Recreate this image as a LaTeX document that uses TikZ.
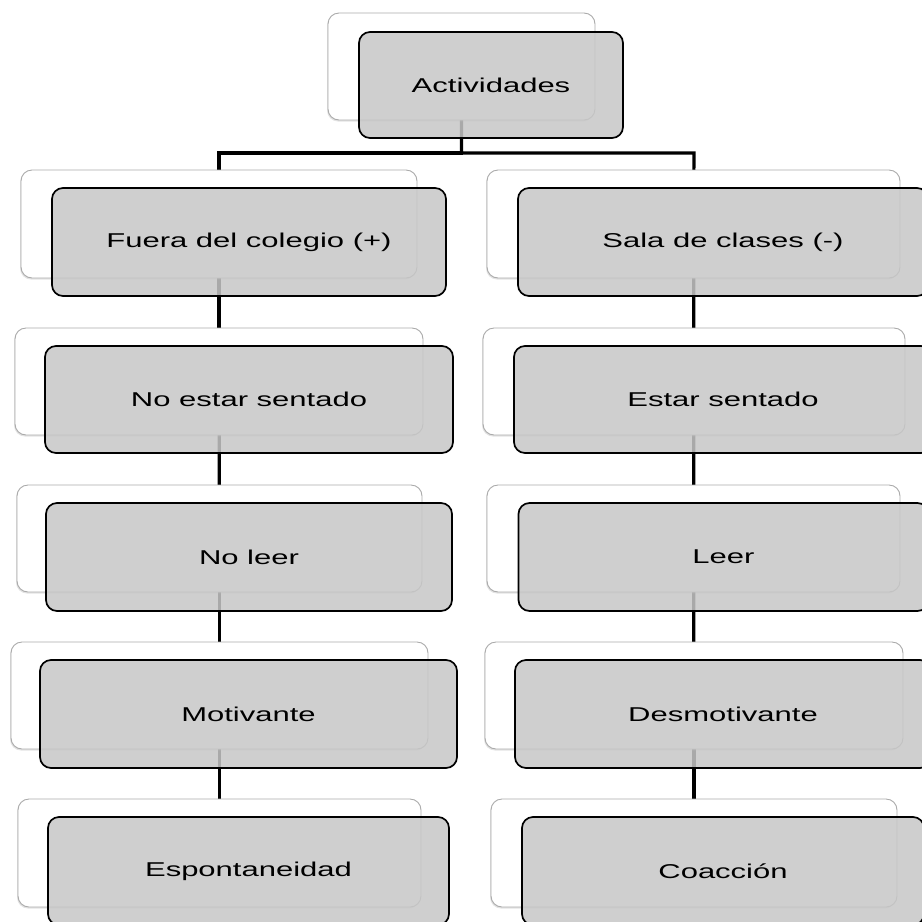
\documentclass[tikz,border=0pt]{standalone}
\usepackage{fontspec}
\newfontfamily\boxfont[FakeStretch=1.55]{Liberation Sans}
\usetikzlibrary{shadows}
\pgfdeclarelayer{bg}
\pgfsetlayers{bg,main}
\definecolor{boxgray}{RGB}{199,199,199}
\definecolor{backedge}{RGB}{170,170,170}
\tikzset{
  backbox/.style={draw=backedge, line width=0.9pt, fill=white, rounded corners=11pt,
    drop shadow={shadow xshift=-1pt, shadow yshift=-1.5pt, opacity=0.22}, inner sep=0pt},
  frontbox/.style={draw=black, line width=1.7pt, fill=boxgray, fill opacity=0.85,
    text opacity=1, rounded corners=11pt, inner sep=0pt,
    font=\boxfont\fontsize{20}{24}\selectfont},
  conn/.style={line width=3.2pt, black},
}
\begin{document}
\begin{tikzpicture}[x=1pt,y=-1pt]
\useasboundingbox (0,0) rectangle (922,922);
% back boxes
\node[backbox, minimum width=267pt, minimum height=107pt] (wT) at (461.5,66.5) {};
\node[backbox, minimum width=396pt, minimum height=108pt] (wL1) at (219,224) {};
\node[backbox, minimum width=408pt, minimum height=107pt] (wL2) at (219,381.5) {};
\node[backbox, minimum width=405pt, minimum height=107pt] (wL3) at (219.5,538.5) {};
\node[backbox, minimum width=417pt, minimum height=107pt] (wL4) at (219.5,695.5) {};
\node[backbox, minimum width=403pt, minimum height=108pt] (wL5) at (219.5,853) {};
\node[backbox, minimum width=413pt, minimum height=108pt] (wR1) at (693.5,224) {};
\node[backbox, minimum width=422pt, minimum height=107pt] (wR2) at (694,381.5) {};
\node[backbox, minimum width=413pt, minimum height=107pt] (wR3) at (693.5,538.5) {};
\node[backbox, minimum width=418pt, minimum height=107pt] (wR4) at (694,695.5) {};
\node[backbox, minimum width=406pt, minimum height=108pt] (wR5) at (694,853) {};
% front boxes
\node[frontbox, minimum width=264pt, minimum height=106pt] (gT) at (491,85) {Actividades};
\node[frontbox, minimum width=394pt, minimum height=108pt] (gL1) at (249,242) {Fuera del colegio (+)};
\node[frontbox, minimum width=408pt, minimum height=107pt] (gL2) at (249,399.5) {No estar sentado};
\node[frontbox, minimum width=406pt, minimum height=108pt] (gL3) at (249,557) {No leer};
\node[frontbox, minimum width=417pt, minimum height=108pt] (gL4) at (248.5,714) {Motivante};
\node[frontbox, minimum width=401pt, minimum height=108pt] (gL5) at (248.5,871) {Espontaneidad};
\node[frontbox, minimum width=410pt, minimum height=108pt] (gR1) at (723,242) {Sala de clases (-)};
\node[frontbox, minimum width=418pt, minimum height=107pt] (gR2) at (723,399.5) {Estar sentado};
\node[frontbox, minimum width=410pt, minimum height=108pt] (gR3) at (723.5,557) {Leer};
\node[frontbox, minimum width=416pt, minimum height=108pt] (gR4) at (723,714) {Desmotivante};
\node[frontbox, minimum width=402pt, minimum height=108pt] (gR5) at (723,871) {Coacción};
% connectors
\coordinate (busL) at (219,153);
\coordinate (busR) at (694,153);
\begin{pgfonlayer}{bg}
\draw[conn] (wT.center) |- (busL) -- (wL1.center);
\draw[conn] (wT.center) |- (busR) -- (wR1.center);
\draw[conn] (wL1.center) -- (wL2.center);
\draw[conn] (wL2.center) -- (wL3.center);
\draw[conn] (wL3.center) -- (wL4.center);
\draw[conn] (wL4.center) -- (wL5.center);
\draw[conn] (wR1.center) -- (wR2.center);
\draw[conn] (wR2.center) -- (wR3.center);
\draw[conn] (wR3.center) -- (wR4.center);
\draw[conn] (wR4.center) -- (wR5.center);
\end{pgfonlayer}
\end{tikzpicture}
\end{document}
